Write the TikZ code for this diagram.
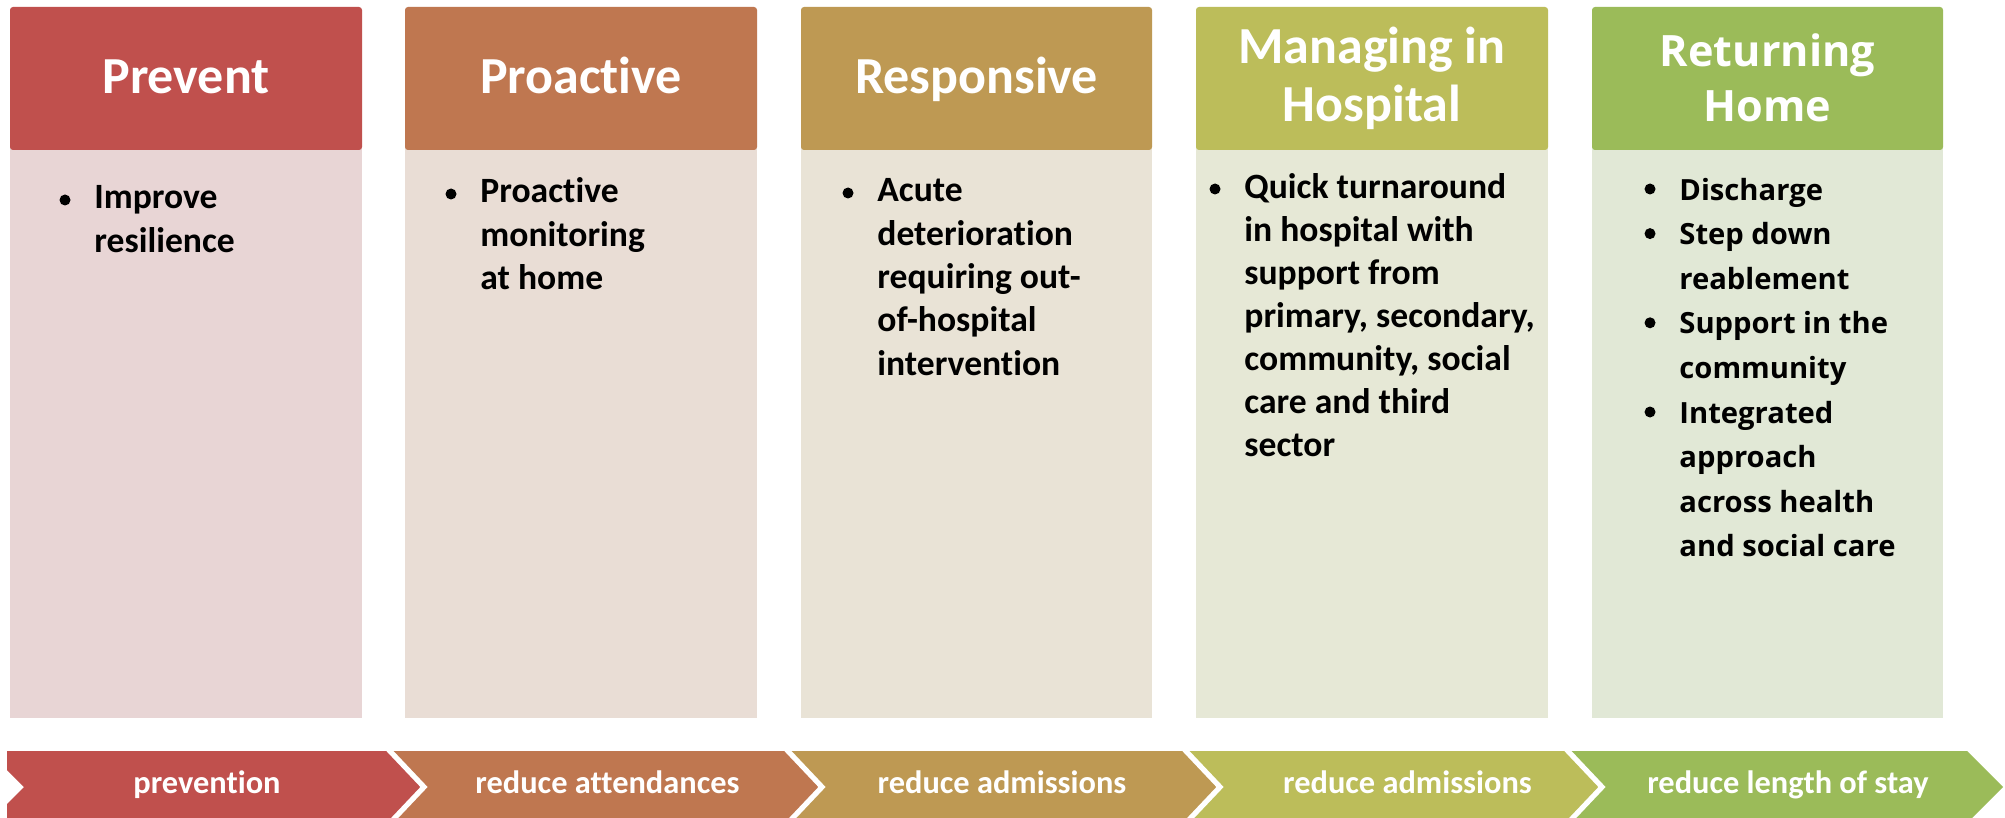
\documentclass[tikz,border=0pt]{standalone}
\usepackage{fontspec}
\setmainfont{Carlito}[Ligatures=NoCommon]
\newfontfamily\osans{Open Sans}[Ligatures=NoCommon]
\definecolor{hdr1}{RGB}{192,80,77}
\definecolor{hdr2}{RGB}{191,119,80}
\definecolor{hdr3}{RGB}{190,153,83}
\definecolor{hdr4}{RGB}{188,189,90}
\definecolor{hdr5}{RGB}{155,187,89}
\definecolor{body1}{RGB}{232,213,213}
\definecolor{body2}{RGB}{233,221,213}
\definecolor{body3}{RGB}{233,227,214}
\definecolor{body4}{RGB}{230,232,214}
\definecolor{body5}{RGB}{225,232,214}
\tikzset{
  hdtxt/.style={anchor=base, inner sep=0pt, text=white, font=\bfseries\fontsize{26}{29}\selectfont},
  hdtxtb/.style={anchor=base, inner sep=0pt, text=white, font=\osans\bfseries\fontsize{21.6}{26}\selectfont},
  bodytxt/.style={anchor=base west, inner sep=0pt, text=black, font=\bfseries\fontsize{17.8}{21}\selectfont},
  bodytxtb/.style={anchor=base west, inner sep=0pt, text=black, font=\osans\bfseries\fontsize{14.6}{20}\selectfont},
  chevtxt/.style={anchor=base, inner sep=0pt, text=white, font=\bfseries\fontsize{16.2}{19}\selectfont},
  bulletdot/.style={fill=black},
}
\begin{document}
\begin{tikzpicture}[x=0.5pt,y=-0.5pt]
\useasboundingbox (0,0) rectangle (2005,818);
\fill[white] (0,0) rectangle (2005,818);

% cards: coloured header on top of a pale body
\foreach \i/\xl/\xr in {1/10/362, 2/405/757, 3/801/1152, 4/1196/1548, 5/1592/1943}{
  \fill[body\i] (\xl,146) rectangle (\xr,718);
  \fill[hdr\i, rounded corners=1.5pt] (\xl,150) -- (\xl,7) -- (\xr,7) -- (\xr,150) -- cycle;
  \fill[hdr\i] (\xl,140) rectangle (\xr,146);
}

% header titles
\node[hdtxt] (h1) at (186,94) {Prevent};
\node[hdtxt] (h2) at (581,94) {Proactive};
\node[hdtxt] (h3) at (976.5,94) {Responsive};
\node[hdtxt] (h4a) at (1372,63.5) {Managing in};
\node[hdtxt] (h4b) at (1372,121.5) {Hospital};
\node[hdtxtb] (h5a) at (1767.5,66.5) {Returning};
\node[hdtxtb] (h5b) at (1767.5,122) {Home};

% card 1
\fill[bulletdot] (65,200) circle[radius=5.5];
\foreach \t [count=\k from 0] in {Improve, resilience}
  \node[bodytxt] (c1l\k) at (94,209+43*\k) {\t};

% card 2
\fill[bulletdot] (451,194) circle[radius=5.5];
\foreach \t [count=\k from 0] in {Proactive, monitoring, at home}
  \node[bodytxt] (c2l\k) at (480,203+43*\k) {\t};

% card 3
\fill[bulletdot] (848,193) circle[radius=5.5];
\foreach \t [count=\k from 0] in {Acute, deterioration, requiring out-, of-hospital, intervention}
  \node[bodytxt] (c3l\k) at (877,202+43.3*\k) {\t};

% card 4
\fill[bulletdot] (1215,189) circle[radius=5.5];
\foreach \t [count=\k from 0] in {Quick turnaround, in hospital with, support from, {primary, secondary,}, {community, social}, care and third, sector}
  \node[bodytxt] (c4l\k) at (1244,198.5+43*\k) {\t};

% card 5
\foreach \k in {0,1,3,5}
  \fill[bulletdot] (1650,189+44.6*\k) circle[radius=5.5];
\foreach \t [count=\k from 0] in {Discharge, Step down, reablement, Support in the, community, Integrated, approach, across health, and social care}
  \node[bodytxtb] (c5l\k) at (1679,200+44.6*\k) {\t};

% chevron band along the bottom
\begin{scope}
  \clip (7,0) rectangle (2005,818);
  \foreach \i/\a/\b in {1/-12/388, 2/388/786, 3/786/1184, 4/1184/1566, 5/1566/1967}
    \fill[hdr\i] (\a,751) -- (\b,751) -- (\b+36,787) -- (\b,823) -- (\a,823) -- (\a+36,787) -- cycle;
  \foreach \b in {388,786,1184,1566}
    \draw[white, line width=2.6pt, line join=miter] (\b,749) -- (\b+36,787) -- (\b,825);
\end{scope}

\node[chevtxt] (t1) at (207,793) {prevention};
\node[chevtxt] (t2) at (607.5,793) {reduce attendances};
\node[chevtxt] (t3) at (1002,793) {reduce admissions};
\node[chevtxt] (t4) at (1407.5,793) {reduce admissions};
\node[chevtxt] (t5) at (1788,793) {reduce length of stay};
\end{tikzpicture}
\end{document}
